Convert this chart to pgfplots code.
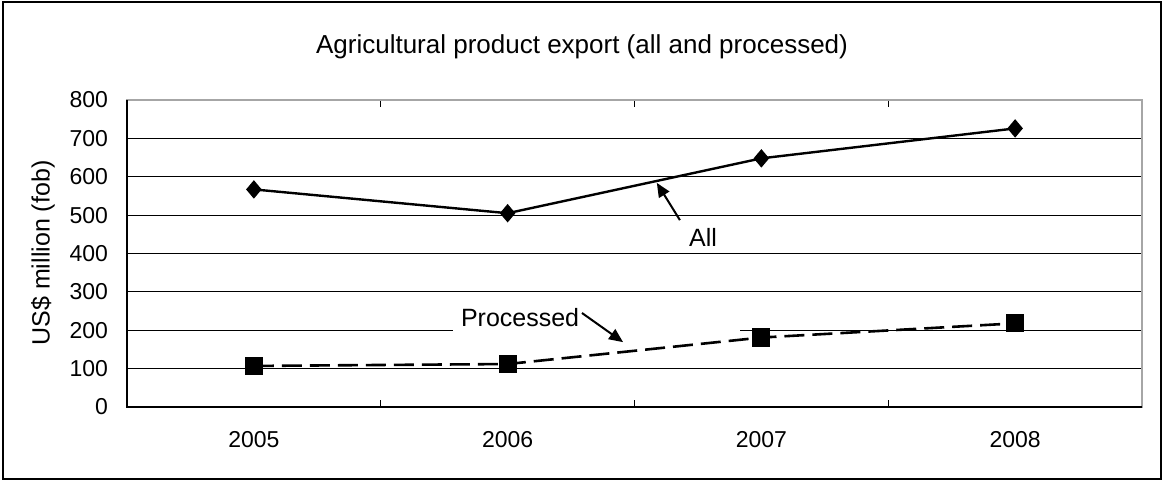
\documentclass[border=0pt]{standalone}
\usepackage{pgfplots}
\pgfplotsset{compat=1.18}
\usetikzlibrary{arrows.meta}
\usepackage{fontspec}
\setmainfont{Liberation Sans}
\begin{document}
\begin{tikzpicture}[font=\fontsize{11.5bp}{13.5bp}\selectfont]
\useasboundingbox (-63.5bp,-37bp) rectangle (518.5bp,203.5bp);
\begin{axis}[
  scale only axis,
  width=507.5bp, height=153.5bp,
  xmin=-0.5, xmax=3.5, ymin=0, ymax=800,
  xtick={0,1,2,3},
  xticklabels={2005,2006,2007,2008},
  minor xtick={0.5,1.5,2.5},
  ytick={0,100,...,800},
  ymajorgrids,
  grid style={black, line width=0.5bp},
  major tick length=0pt,
  minor tick length=3.5bp,
  tick align=inside,
  minor tick style={black, line width=0.5bp},
  axis line style={draw=gray!70, line width=1bp},
  /pgf/number format/assume math mode=true,
  yticklabel style={anchor=east, xshift=-6bp},
  xticklabel style={anchor=center, yshift=-16.5bp},
  clip=false,
]
\fill[white] (axis cs:0.785,190) rectangle (axis cs:1.916,265);
\draw[black, line width=0.7bp] (rel axis cs:0,1) -- (rel axis cs:0,0) -- (rel axis cs:1,0);
\addplot[black, line width=1.2bp, mark=diamond*, mark size=3.7bp, mark options={solid, xscale=1.12}]
  coordinates {(0,567) (1,505) (2,648) (3,726)};
\addplot[black, line width=1.3bp, dash pattern=on 10bp off 4bp, mark=square*, mark size=3.9bp, mark options={solid}]
  coordinates {(0,107) (1,112) (2,181) (3,218)};
\draw[-{Triangle[length=7bp,width=6bp]}, line width=1bp] (axis cs:1.679,487) -- (axis cs:1.588,584);
\node[font=\fontsize{12.5bp}{15bp}\selectfont] at (axis cs:1.770,443) {All};
\node[inner sep=0pt, font=\fontsize{12.5bp}{15bp}\selectfont] at (axis cs:1.049,232) {Processed};
\draw[-{Triangle[length=7bp,width=6bp]}, line width=1bp] (axis cs:1.293,245) -- (axis cs:1.455,169);
\end{axis}
\node[font=\fontsize{13bp}{15bp}\selectfont] at (227.5bp,180bp) {Agricultural product export (all and processed)};
\node[rotate=90, font=\fontsize{12.5bp}{15bp}\selectfont] at (-42bp,77bp) {US\$ million (fob)};
\draw[black, line width=1.2bp] (-62bp,-36bp) rectangle (517bp,202.5bp);
\end{tikzpicture}
\end{document}
